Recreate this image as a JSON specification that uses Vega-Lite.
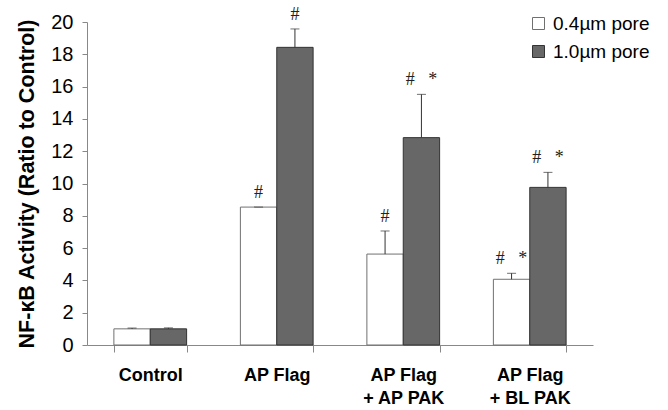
{
  "$schema": "https://vega.github.io/schema/vega-lite/v6.json",
  "width": 506,
  "height": 323,
  "autosize": {"type": "none"},
  "padding": {"left": 87, "top": 22, "right": 75, "bottom": 65},
  "background": "white",
  "config": {
    "font": "Liberation Sans",
    "view": {"stroke": null},
    "axis": {"domainColor": "#888888", "tickColor": "#888888", "labelColor": "#000000", "titleColor": "#000000", "grid": false}
  },
  "data": {
    "values": [
      {"group": "Control", "pore": "0.4µm pore", "value": 1.0, "upper": 1.05, "note": ""},
      {"group": "Control", "pore": "1.0µm pore", "value": 1.0, "upper": 1.06, "note": ""},
      {"group": "AP Flag", "pore": "0.4µm pore", "value": 8.54, "upper": 8.54, "note": "#"},
      {"group": "AP Flag", "pore": "1.0µm pore", "value": 18.43, "upper": 19.57, "note": "#"},
      {"group": "AP Flag + AP PAK", "pore": "0.4µm pore", "value": 5.63, "upper": 7.06, "note": "#"},
      {"group": "AP Flag + AP PAK", "pore": "1.0µm pore", "value": 12.84, "upper": 15.52, "note": "#\u00a0\u00a0\u00a0*"},
      {"group": "AP Flag + BL PAK", "pore": "0.4µm pore", "value": 4.07, "upper": 4.44, "note": "#\u00a0\u00a0\u00a0*"},
      {"group": "AP Flag + BL PAK", "pore": "1.0µm pore", "value": 9.76, "upper": 10.69, "note": "#\u00a0\u00a0\u00a0*"}
    ]
  },
  "encoding": {
    "x": {
      "field": "group",
      "type": "nominal",
      "sort": ["Control", "AP Flag", "AP Flag + AP PAK", "AP Flag + BL PAK"],
      "scale": {"paddingInner": 0.425, "paddingOuter": 0.2125},
      "axis": {
        "title": null,
        "labelAngle": 0,
        "labelFontSize": 18,
        "labelFontWeight": "bold",
        "labelBaseline": "top",
        "labelPadding": 14,
        "labelLineHeight": 23,
        "tickBand": "extent",
        "tickSize": 7,
        "labelExpr": "length(datum.label) > 10 ? ['AP Flag', slice(datum.label, 8)] : datum.label"
      }
    },
    "xOffset": {
      "field": "pore",
      "type": "nominal",
      "sort": ["0.4µm pore", "1.0µm pore"],
      "scale": {"paddingInner": 0, "paddingOuter": 0}
    }
  },
  "layer": [
    {
      "mark": {"type": "bar", "strokeWidth": 1},
      "encoding": {
        "y": {
          "field": "value",
          "type": "quantitative",
          "scale": {"domain": [0, 20]},
          "axis": {"title": "NF-κB Activity (Ratio to Control)", "titleFontSize": 21.5, "titleFontWeight": "bold", "titlePadding": 12, "labelFontSize": 20, "labelPadding": 9, "tickSize": 5, "labelOverlap": false, "values": [0, 2, 4, 6, 8, 10, 12, 14, 16, 18, 20]}
        },
        "color": {
          "field": "pore",
          "type": "nominal",
          "scale": {"domain": ["0.4µm pore", "1.0µm pore"], "range": ["#ffffff", "#676767"]},
          "legend": {
            "title": null,
            "orient": "none",
            "legendX": 442,
            "legendY": -8,
            "symbolType": "square",
            "symbolSize": 144,
            "symbolStrokeColor": "#555555",
            "symbolStrokeWidth": 1,
            "labelFontSize": 19,
            "labelColor": "#000000",
            "labelOffset": 5,
            "rowPadding": 8
          }
        },
        "stroke": {
          "field": "pore",
          "type": "nominal",
          "scale": {"domain": ["0.4µm pore", "1.0µm pore"], "range": ["#707070", "#333333"]},
          "legend": null
        }
      }
    },
    {
      "mark": {"type": "rule", "color": "#333333", "strokeWidth": 1},
      "encoding": {
        "y": {"field": "value", "type": "quantitative", "axis": {"title": "NF-κB Activity (Ratio to Control)", "titleFontSize": 21.5, "titleFontWeight": "bold", "titlePadding": 12, "labelFontSize": 20, "labelPadding": 9, "tickSize": 5, "labelOverlap": false, "values": [0, 2, 4, 6, 8, 10, 12, 14, 16, 18, 20]}},
        "y2": {"field": "upper"}
      }
    },
    {
      "mark": {"type": "tick", "orient": "horizontal", "size": 9, "thickness": 1, "color": "#333333"},
      "encoding": {
        "y": {"field": "upper", "type": "quantitative", "axis": {"title": "NF-κB Activity (Ratio to Control)", "titleFontSize": 21.5, "titleFontWeight": "bold", "titlePadding": 12, "labelFontSize": 20, "labelPadding": 9, "tickSize": 5, "labelOverlap": false, "values": [0, 2, 4, 6, 8, 10, 12, 14, 16, 18, 20]}}
      }
    },
    {
      "mark": {"type": "text", "font": "Liberation Serif", "fontSize": 18, "baseline": "alphabetic", "dy": -9, "color": "#222222"},
      "encoding": {
        "y": {"field": "upper", "type": "quantitative", "axis": {"title": "NF-κB Activity (Ratio to Control)", "titleFontSize": 21.5, "titleFontWeight": "bold", "titlePadding": 12, "labelFontSize": 20, "labelPadding": 9, "tickSize": 5, "labelOverlap": false, "values": [0, 2, 4, 6, 8, 10, 12, 14, 16, 18, 20]}},
        "text": {"field": "note"}
      }
    }
  ]
}
